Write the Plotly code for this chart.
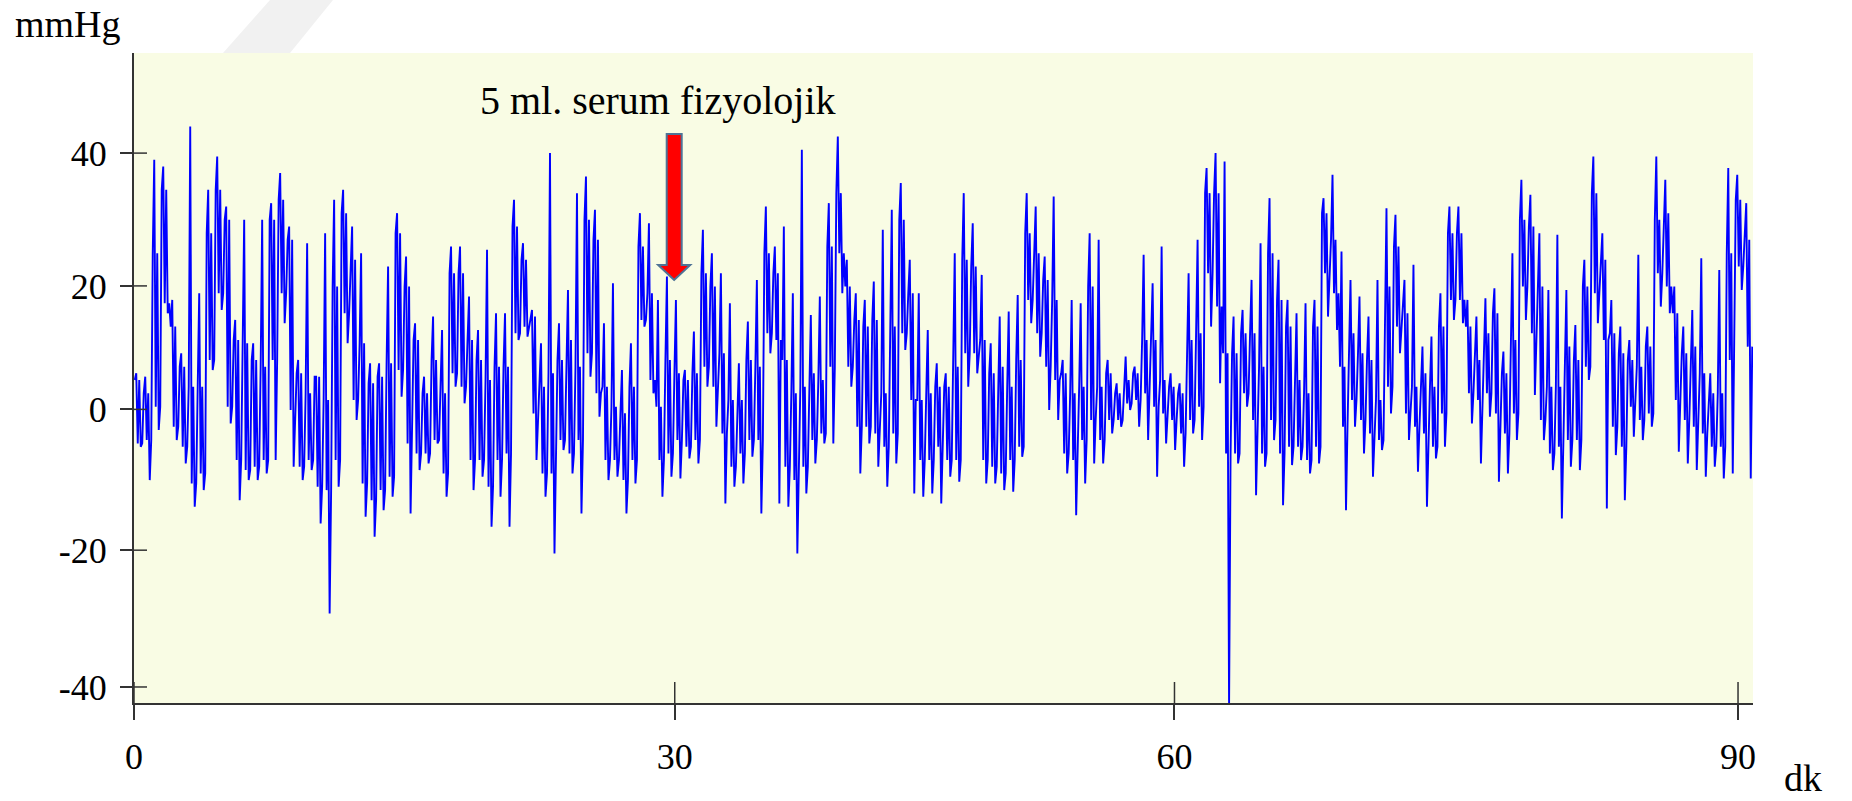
import numpy as np
import plotly.graph_objects as go

# ---------------- data ----------------
# pressure signal, mmHg; one tuple per ~0.5 min bin:
# (spike maximum, upper edge of dense band, lower edge of dense band, spike minimum)
seg_00_15 = [(7, 6, -3.5, -4), (6.5, 4, -3, -9), (39, 25, 2, -1.5), (38, 34.5, 17.5, 16),
             (18, 14, -1, -3), (10, 8, -4, -6.5), (44, 5, -9.5, -13), (19, 5, -8, -10.5),
             (34.5, 28, 9, 7.5), (39.5, 34.5, 19, 16.5), (32, 30, 2, -0.5), (15, 12, -6, -12),
             (30, 11.5, -7.5, -9), (11.5, 9, -7, -9), (30, 8, -6, -8), (32.5, 30, 9, -6),
             (37, 33, 19, 14.5), (29, 27, 1.5, -7), (9, 7, -7, -9), (26.5, 4, -6, -7.5),
             (6.5, 6.5, -10, -15.5), (28, 3, -10.5, -29), (33, 20, -6, -10), (34.5, 31, 16, 11.5),
             (29, 24, 3, 0), (25, 11.5, -9.5, -14.5), (8.5, 5.5, -12, -17.5), (8.5, 6.5, -10.5, -13.5),
             (23, 8.5, -8.5, -11.5), (31, 28, 7.5, 3.5)]
seg_15_30 = [(24.5, 20, -3.5, -14), (14.5, 12, -5, -7.5), (6.5, 4, -5, -6.5), (15.5, 9, -3, -3.5),
             (13.5, 4, -8, -11.5), (26, 22, 7, 5), (26, 22, 5, 2.5), (18.5, 12, -6, -10.5),
             (13.5, 9, -6, -8.5), (25.5, 6, -10, -16), (16, 8, -6, -11.5), (16, 8, -5, -16),
             (33, 29, 13, 12), (26.5, 24, 14, 12.5), (16.5, 15.5, 1, -6), (11.5, 5, -8, -11.5),
             (40, 7, -8, -20), (14.5, 9, -3, -4.5), (19.5, 12, -5, -8), (34, 8, -3, -14),
             (36.5, 30, 10, 6.5), (31.5, 27, 4, 0.5), (14.5, 5, -6, -9), (20.5, 2, -6, -8.5),
             (7.5, 1, -9, -14), (11.5, 5, -6, -9.5), (31, 26, 15, 14), (29.5, 19, 6, 4),
             (18, 2, -6, -11.5), (21.5, 9, -5, -8.5)]
seg_30_45 = [(18, 7, -3, -8.75), (7.5, 6, -4, -5.75), (13.25, 7, -3, -6.5), (28.5, 22, 8, 5),
             (25, 20, 5, -1), (22, 10, -2, -12.5), (17.5, 3, -7, -10), (8.5, 3, -5, -9.5),
             (14.75, 9, -3, -5.5), (21, 8, -3, -14), (32, 25, 13, 10), (26, 22, 12, -12.5),
             (29, 9, -7, -13), (19, 4, -9, -20), (40.5, 5, -7, -11), (15.75, 7, -3, -6.5),
             (18.5, 6, -2, -3.5), (32.5, 26, 8, -3.5), (42.5, 34, 25, 19), (24, 20, 8, 5),
             (19, 15, -1, -8), (18, 14, -1, -3.5), (20.75, 15, -2, -7), (28.5, 4, -4, -10),
             (31.5, 14, -2, -6.5), (35.5, 30, 13, 10.5), (24, 19, 3, -11), (19, 3, -6, -11.5),
             (13.5, 4, -6, -11), (8.5, 5, -4, -12.5)]
seg_45_60 = [(7, 5, -6, -8.5), (25, 8, -6, -9.25), (34, 24, 10, 5), (29.5, 23, 10, 7),
             (21.75, 12, -6, -9.5), (11.5, 7, -7, -9.5), (15.5, 8, -8, -10.5), (16.25, 5, -6, -10.75),
             (18.75, 9, -4, -5.5), (34, 28, 18, 14.5), (32, 25, 13, 9.5), (24.5, 21, 8, 1.5),
             (33.5, 18, 6, 0), (9, 7, -5, -8), (18, 4, -6, -14.25), (17.5, 5, -3, -9.5),
             (28, 20, 0, -6.5), (27, 5, -3, -6.5), (9, 7, 0, -2), (5.5, 4, 0, -1),
             (9.5, 6, 2.5, 1.5), (8, 7, 3, -1), (24.75, 12, 4, -3), (20.5, 12, 2, -8.5),
             (26, 6, 1, -3.5), (7, 5, 0, -4.5), (5.5, 4, -2, -7), (22, 12, 0, -2),
             (27, 13, 2, -3), (37.75, 34, 22, 14)]
seg_60_75 = [(40, 34, 17, 5.5), (38.75, 10, -5, -43), (15.5, 10, -5, -6.5), (16.5, 13, 4, 2),
             (21, 13, 0, -11.25), (26.5, 8, -5, -7), (33.25, 25, 0, -3), (24, 18, -5, -12.75),
             (18, 14, -4, -6.75), (16, 6, -4, -6), (17.5, 4, -6, -8), (18, 14, -4, -6.5),
             (33.25, 31, 22, 15.5), (36.75, 27, 19, 13.5), (25.25, 8, -1, -13.5), (21, 13, 3, -1),
             (18.5, 10, 0, -5), (15.5, 9, -2, -8.5), (21, 3, -3, -4.5), (31.75, 20, 5, 1),
             (30.75, 26, 14, 10), (21, 16, 1, -3), (23.25, 5, -1, -7.75), (11, 7, -2, -13),
             (12.5, 5, -4, -5.75), (19, 14, 1, -4), (32, 28, 18, 15), (32, 28, 18, 14.5),
             (18, 14, 4, -0.5), (15.5, 9, 3, -6.5)]
seg_75_91 = [(18.25, 13, 4, 0.5), (19.75, 16, 1, -9.25), (10.25, 7, -2, -8), (25, 12, 1, -3),
             (36, 30, 20, 15), (33.75, 29, 13, 3.75), (28, 20, 0, -3), (19.5, 5, -5, -7.5),
             (27.75, 5, -4, -14.75), (19.5, 11, -3, -7), (14.25, 9, -3, -7.5), (24, 20, 8, 6),
             (39.5, 34, 19, 14.5), (28, 24, 12, -13.25), (18, 13, -1, -5.25), (14, 10, -4, -12),
             (12, 9, 2, -2.5), (24.75, 8, 0, -3), (14, 11, 1, -1), (39.5, 30, 22, 17),
             (36, 31, 20, 16), (20, 16, 3, -4.75), (14, 10, 0, -6.5), (16.5, 11, -1, -7.5),
             (24.25, 7, -2, -8.5), (7, 4, -4, -7), (22.5, 4, -4, -8.75), (37.75, 25, 9, -8),
             (36.75, 33, 23, 19.5), (32.5, 27, 11, -8.75)]

duration_min = 90.84          # length of the recording (dk)
injection_min = 30.31         # 5 ml serum fizyolojik
arrow_tip_mmHg = 21.0

x_tick_vals = [0, 30.34, 58.38, 90.0]
x_tick_text = ["0", "30", "60", "90"]
y_tick_vals = [40, 20.1, 1.6, -19.5, -40]
y_tick_text = ["40", "20", "0", "-20", "-40"]

# trace through each bin: band top -> spike up -> band bottom -> band top -> spike down -> band bottom
bins = seg_00_15 + seg_15_30 + seg_30_45 + seg_45_60 + seg_60_75 + seg_75_91
pressure = []
for s_hi, c_hi, c_lo, s_lo in bins:
    pressure += [c_hi, s_hi, c_lo, c_hi, s_lo, c_lo]
pressure = np.array(pressure, dtype=float)
n = len(pressure)
time_min = (np.arange(n) + 0.5) * duration_min / n

# ---------------- figure ----------------
W, H = 1852, 801
L, R, T, B = 134, 99, 53, 98
axis_col = "#333333"
FONT = "Liberation Serif"

def px_x(px):
    return (px - L) / (W - L - R)

def px_y(py):
    return (H - B - py) / (H - T - B)

fig = go.Figure()
fig.add_trace(go.Scatter(x=time_min, y=pressure, mode="lines",
                         line=dict(color="#0000FF", width=1.9), hoverinfo="skip"))

shapes = []
# faint watermark stripe above the plot
shapes.append(dict(type="path", xref="paper", yref="paper", layer="below",
                   path=f"M{px_x(223)},{px_y(53)} L{px_x(270)},{px_y(0)} L{px_x(333)},{px_y(0)} L{px_x(290)},{px_y(53)} Z",
                   fillcolor="#F1F1F1", line=dict(width=0)))
# inner halves of the crossing ticks
for v in x_tick_vals:
    shapes.append(dict(type="line", xref="x", yref="paper", ysizemode="pixel", yanchor=0,
                       x0=v, x1=v, y0=0, y1=21, line=dict(color=axis_col, width=1.5)))
for v in y_tick_vals:
    shapes.append(dict(type="line", yref="y", xref="paper", xsizemode="pixel", xanchor=0,
                       y0=v, y1=v, x0=0, x1=13, line=dict(color=axis_col, width=1.5)))
# red block arrow marking the injection
shapes.append(dict(type="path", xref="x", yref="y", xsizemode="pixel", ysizemode="pixel",
                   xanchor=injection_min, yanchor=arrow_tip_mmHg,
                   path="M0,0 L-16,15 L-7.5,15 L-7.5,146 L7.5,146 L7.5,15 L16,15 Z",
                   fillcolor="#FF0000", line=dict(color="#4F7396", width=2)))

annotations = [
    dict(text="5 ml. serum fizyolojik", xref="paper", yref="paper",
         x=px_x(658), y=px_y(100), xanchor="center", yanchor="middle", showarrow=False,
         font=dict(family=FONT, size=40, color="black")),
    dict(text="mmHg", xref="paper", yref="paper", x=px_x(13), y=px_y(1),
         xanchor="left", yanchor="top", showarrow=False,
         font=dict(family=FONT, size=38, color="black")),
    dict(text="dk", xref="paper", yref="paper", x=px_x(1803), y=px_y(778),
         xanchor="center", yanchor="middle", showarrow=False,
         font=dict(family=FONT, size=38, color="black")),
]

fig.update_layout(
    width=W, height=H, margin=dict(l=L, r=R, t=T, b=B),
    paper_bgcolor="white", plot_bgcolor="#F9FCE4",
    showlegend=False, font=dict(family=FONT, color="black"),
    shapes=shapes, annotations=annotations,
    xaxis=dict(range=[0, duration_min], showgrid=False, zeroline=False,
               showline=True, linecolor=axis_col, linewidth=2,
               ticks="outside", ticklen=15, tickwidth=1.5, tickcolor=axis_col,
               tickvals=x_tick_vals, ticktext=x_tick_text, ticklabelstandoff=6,
               tickfont=dict(family=FONT, size=36, color="black")),
    yaxis=dict(range=[-42.4, 55.0], showgrid=False, zeroline=False,
               showline=True, linecolor=axis_col, linewidth=2,
               ticks="outside", ticklen=12, tickwidth=1.5, tickcolor=axis_col,
               tickvals=y_tick_vals, ticktext=y_tick_text, ticklabelstandoff=6,
               tickfont=dict(family=FONT, size=36, color="black")),
)

fig.write_html("out.html")
